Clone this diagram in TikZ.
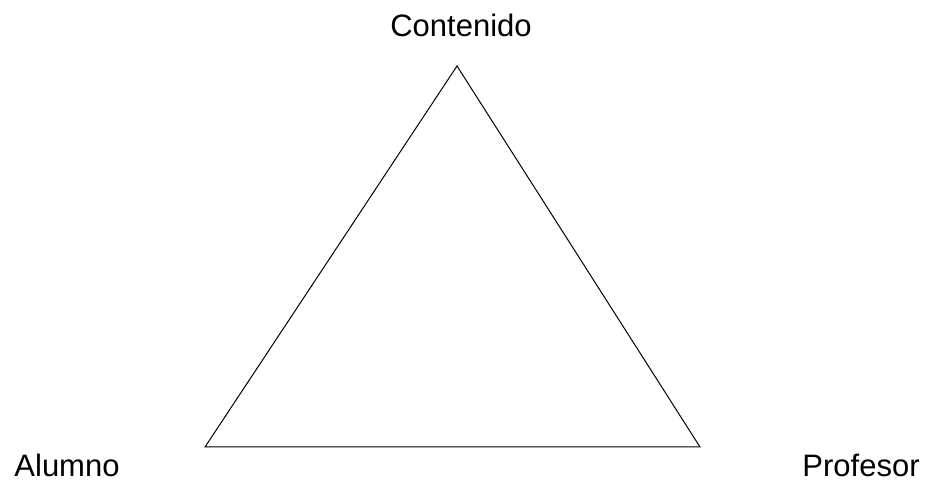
\documentclass[tikz,border=0pt]{standalone}
\usepackage{fontspec}
\setmainfont{Liberation Sans}
\usepackage{tikz}
\usetikzlibrary{positioning, calc}

\begin{document}
\begin{tikzpicture}[x=1pt, y=1pt,
                    etiqueta/.style={inner sep=0pt, anchor=base, font=\fontsize{31}{37}\selectfont}]
                    \useasboundingbox (0,0) rectangle (925,481);
                    % Vertices del triangulo
                    \coordinate (vc) at (457, 415);
                    \coordinate (va) at (205, 34);
                    \coordinate (vp) at (700, 34);
                    
                    % Etiquetas
                    \node[etiqueta] (contenido) at (461, 444) {Contenido};
                    \node[etiqueta] (alumno) at (67, 4) {Alumno};
                    \node[etiqueta] (profesor) at (861, 4) {Profesor};
                    
                    % Triangulo
                    \draw[line width=1pt, line join=miter] (vc) -- (va) -- (vp) -- cycle;
                \end{tikzpicture}
\end{document}
